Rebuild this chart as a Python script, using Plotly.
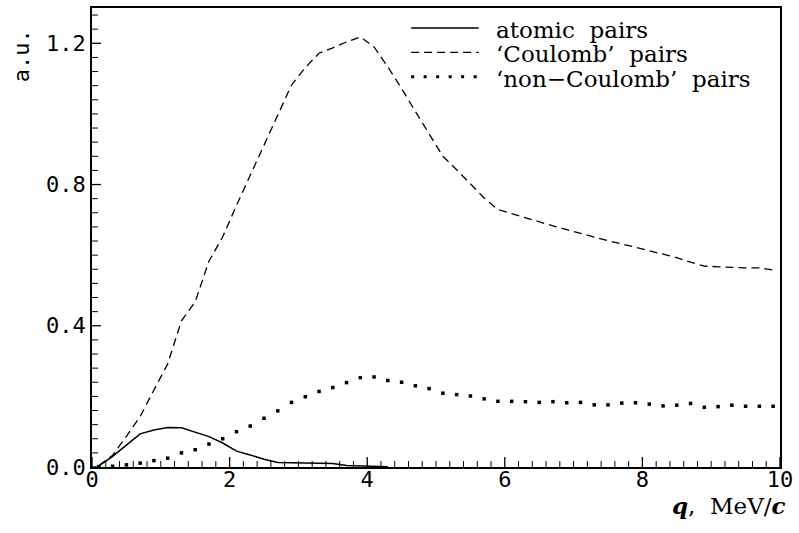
import plotly.graph_objects as go

# bin centres (q, MeV/c)
q = [round(0.1 + 0.2 * i, 1) for i in range(50)]

atomic = [0.003, 0.030, 0.062, 0.094, 0.105, 0.112, 0.111, 0.099, 0.086, 0.068,
          0.045, 0.034, 0.022, 0.013, 0.012, 0.011, 0.011, 0.010, 0.004, 0.003,
          0.002, 0.001]

coulomb = [0.004, 0.033, 0.087, 0.143, 0.218, 0.292, 0.414, 0.468, 0.583, 0.652,
           0.741, 0.826, 0.912, 0.997, 1.082, 1.131, 1.172, 1.187, 1.204, 1.218,
           1.190, 1.133, 1.072, 1.007, 0.942, 0.880, 0.842, 0.802, 0.762, 0.729,
           0.717, 0.706, 0.695, 0.683, 0.672, 0.661, 0.651, 0.641, 0.632, 0.622,
           0.612, 0.602, 0.593, 0.580, 0.569, 0.567, 0.565, 0.564, 0.564, 0.558]

non_coulomb = [0.001, 0.002, 0.006, 0.011, 0.018, 0.025, 0.040, 0.049, 0.065, 0.080,
               0.100, 0.116, 0.138, 0.159, 0.183, 0.199, 0.214, 0.225, 0.239, 0.253,
               0.255, 0.245, 0.240, 0.230, 0.222, 0.209, 0.205, 0.201, 0.193, 0.186,
               0.186, 0.185, 0.183, 0.185, 0.182, 0.183, 0.176, 0.176, 0.181, 0.182,
               0.178, 0.173, 0.175, 0.180, 0.169, 0.171, 0.175, 0.172, 0.172, 0.172]

legend_labels = ["atomic  pairs", "\u2018Coulomb\u2019  pairs", "\u2018non\u2212Coulomb\u2019  pairs"]
legend_dash = ["solid", "8px,5px", "3px,9.5px"]
legend_width = [1.5, 1.3, 3]

# axis tick definitions
x_major = [0, 2, 4, 6, 8, 10]
x_minor_step = 0.2
y_major = [0.0, 0.4, 0.8, 1.2]
y_minor_step = 0.04

MONO = "DejaVu Sans Mono"
SERIF = "DejaVu Serif"

W, H = 799, 533
ml, mr, mt, mb = 92, 15, 6, 66
pw, ph = W - ml - mr, H - mt - mb
XR, YR = [0, 10], [0, 1.3]

def px_x(p):
    return (p - ml) / pw

def px_y(p):
    return (H - mb - p) / ph

fig = go.Figure()
fig.add_trace(go.Scatter(x=q[:len(atomic)], y=atomic, mode="lines",
                         line=dict(color="black", width=1.5), name=legend_labels[0]))
fig.add_trace(go.Scatter(x=q, y=coulomb, mode="lines",
                         line=dict(color="black", width=1.3, dash="8px,5px"), name=legend_labels[1]))
fig.add_trace(go.Scatter(x=q, y=non_coulomb, mode="markers",
                         marker=dict(symbol="square", size=3.5, color="black", line=dict(width=0)),
                         name=legend_labels[2]))

# inside tick marks on the bottom and left axes (lengths given in pixels)
x_minor = [round(i * x_minor_step, 2) for i in range(int(round(XR[1] / x_minor_step)) + 1)]
x_minor = [v for v in x_minor if all(abs(v - m) > 1e-6 for m in x_major)]
y_minor = [round(i * y_minor_step, 2) for i in range(int(YR[1] / y_minor_step) + 1)]
y_minor = [v for v in y_minor if all(abs(v - m) > 1e-6 for m in y_major)]

def xticks_trace(vals, len_px, width):
    dy = len_px / ph * (YR[1] - YR[0])
    xs, ys = [], []
    for v in vals:
        xs += [v, v, None]
        ys += [YR[0], YR[0] + dy, None]
    return go.Scatter(x=xs, y=ys, mode="lines", line=dict(color="black", width=width),
                      hoverinfo="skip", showlegend=False, cliponaxis=False)

def yticks_trace(vals, len_px, width):
    dx = len_px / pw * (XR[1] - XR[0])
    xs, ys = [], []
    for v in vals:
        xs += [XR[0], XR[0] + dx, None]
        ys += [v, v, None]
    return go.Scatter(x=xs, y=ys, mode="lines", line=dict(color="black", width=width),
                      hoverinfo="skip", showlegend=False, cliponaxis=False)

fig.add_trace(xticks_trace(x_major, 10, 1.3))
fig.add_trace(xticks_trace(x_minor, 6, 1))
fig.add_trace(yticks_trace(y_major, 9, 1.3))
fig.add_trace(yticks_trace(y_minor, 6, 1))

shapes = []
annotations = []

# legend
row_y = [26, 50.5, 75]
for lab, d, w, ry in zip(legend_labels, legend_dash, legend_width, row_y):
    shapes.append(dict(type="line", xref="paper", yref="paper",
                       x0=px_x(413), x1=px_x(481), y0=px_y(ry), y1=px_y(ry),
                       line=dict(color="black", width=w, dash=d)))
    annotations.append(dict(text=lab, xref="paper", yref="paper", x=px_x(496), y=px_y(ry + 2),
                            xanchor="left", yanchor="middle", showarrow=False,
                            font=dict(family=SERIF, size=23, color="black")))

annotations.append(dict(text="a.u.", xref="paper", yref="paper", x=px_x(21), y=px_y(54),
                        xanchor="center", yanchor="middle", textangle=-90, showarrow=False,
                        font=dict(family=MONO, size=22, color="black")))
annotations.append(dict(text="<b><i>q</i></b>,\u00a0\u00a0MeV/<b><i>c</i></b>", xref="paper", yref="paper",
                        x=px_x(792), y=px_y(506), xanchor="right", yanchor="middle", showarrow=False,
                        font=dict(family=SERIF, size=23, color="black")))

CLEAR = "rgba(0,0,0,0)"
axis_common = dict(ticks="inside", tickwidth=1, tickcolor=CLEAR,
                   showline=True, linecolor="black", linewidth=1.5, mirror=True,
                   showgrid=False, zeroline=False,
                   tickfont=dict(family=MONO, size=22, color="black"))

fig.update_layout(
    width=W, height=H,
    margin=dict(l=ml, r=mr, t=mt, b=mb, pad=0),
    paper_bgcolor="white", plot_bgcolor="white",
    showlegend=False,
    shapes=shapes, annotations=annotations,
    xaxis=dict(range=XR, tickvals=x_major, ticktext=[str(v) for v in x_major], ticklen=10,
               ticklabelstandoff=-8, **axis_common),
    yaxis=dict(range=YR, tickvals=y_major, ticktext=["%.1f" % v for v in y_major], ticklen=9,
               **axis_common),
)

fig.write_html("out.html", config={"displayModeBar": False},
               post_script="document.body.style.margin='0px';")
